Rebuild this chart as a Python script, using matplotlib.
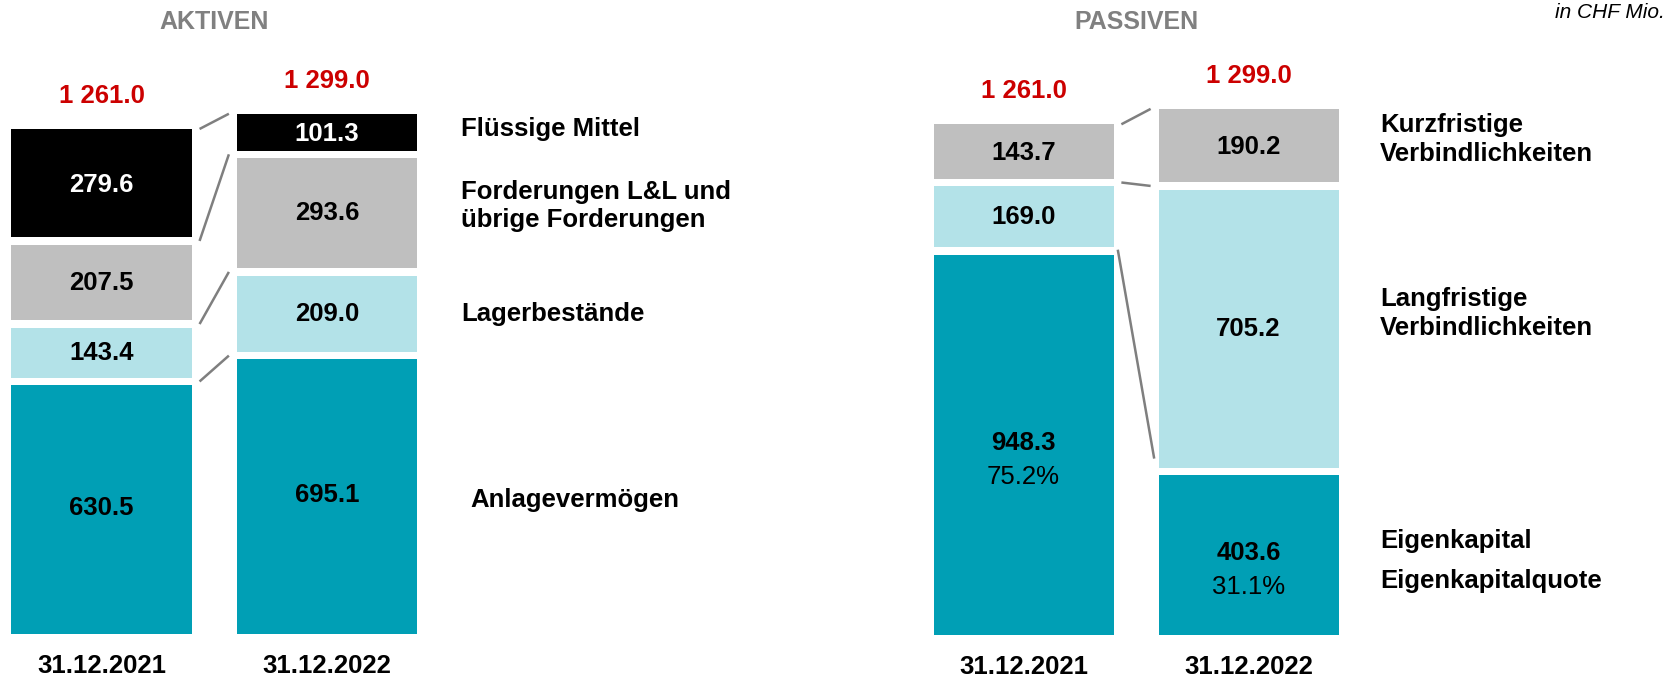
# Bilanzstruktur Aktiven / Passiven, 31.12.2021 vs 31.12.2022
import matplotlib
matplotlib.use("Agg")
import matplotlib.pyplot as plt
import matplotlib.transforms as mtransforms

plt.rcParams['font.family'] = ['Liberation Sans', 'DejaVu Sans']

# data
dates = ["31.12.2021", "31.12.2022"]

aktiv_cats = ["Anlagevermögen", "Lagerbestände",
              "Forderungen L&L und\nübrige Forderungen", "Flüssige Mittel"]
aktiv_2021 = [630.5, 143.4, 207.5, 279.6]
aktiv_2022 = [695.1, 209.0, 293.6, 101.3]

passiv_cats = ["Eigenkapital", "Langfristige\nVerbindlichkeiten",
               "Kurzfristige\nVerbindlichkeiten"]
passiv_2021 = [948.3, 169.0, 143.7]
passiv_2022 = [403.6, 705.2, 190.2]
ek_quote = ["75.2%", "31.1%"]

totals = ["1 261.0", "1 299.0"]

aktiv_colors = ["#009FB5", "#B3E2E8", "#BFBFBF", "#000000"]
aktiv_text = ["black", "black", "black", "white"]
passiv_colors = ["#009FB5", "#B3E2E8", "#BFBFBF"]

RED = "#CC0000"
GREY_TITLE = "#808080"
LINE = "#7F7F7F"
FS = 18.5
GAP = 19  # white gap between segments, in data units
BW = 0.8

W, H = 1669, 678
fig = plt.figure(figsize=(W / 100, H / 100), dpi=100)


def px_axes(left, bottom_from_top, width, height):
    return fig.add_axes([left / W, (H - bottom_from_top) / H, width / W, height / H])


def stacked(ax, cols, colors, txtcolors, show_vals=True):
    """draw the two stacked bars with gaps, return cumulative boundaries"""
    bounds = []
    for i, vals in enumerate(cols):
        cum = 0.0
        b = [0.0]
        n = len(vals)
        for j, v in enumerate(vals):
            lo = cum + (GAP / 2 if j > 0 else 0)
            hi = cum + v - (GAP / 2 if j < n - 1 else 0)
            ax.bar(i, hi - lo, bottom=lo, width=BW, color=colors[j], linewidth=0)
            if show_vals:
                ax.text(i, cum + v / 2, f"{v:.1f}", ha="center", va="center",
                        fontsize=FS, fontweight="bold", color=txtcolors[j])
            cum += v
            b.append(cum)
        bounds.append(b)
    return bounds


def connectors(ax, bounds, pairs, shrink=0.035):
    for a, b in pairs:
        ax.plot([BW / 2 + shrink, 1 - BW / 2 - shrink],
                [bounds[0][a], bounds[1][b]],
                color=LINE, linewidth=1.8, solid_capstyle="butt")


def decorate(ax, title, bounds):
    tr = mtransforms.blended_transform_factory(ax.transData, fig.transFigure)
    ax.text(0.5, 1 - 22 / H, title, transform=tr, ha="center", va="center",
            fontsize=FS - 0.5, fontweight="bold", color=GREY_TITLE)
    for i in range(2):
        ax.annotate(totals[i], (i, bounds[i][-1]), xytext=(0, 33),
                    textcoords="offset pixels", ha="center", va="center",
                    fontsize=FS, fontweight="bold", color=RED,
                    annotation_clip=False)
        ax.annotate(dates[i], (i, 0), xytext=(0, -32),
                    textcoords="offset pixels", ha="center", va="center",
                    fontsize=FS, fontweight="bold", color="black",
                    annotation_clip=False)
    ax.set_xlim(-0.45, 1.55)
    ax.set_ylim(0, 1400)
    ax.axis("off")


# ---- Aktiven
ax1 = px_axes(0, 634, 451, 1400 * 0.4005)
b1 = stacked(ax1, [aktiv_2021, aktiv_2022], aktiv_colors, aktiv_text)
connectors(ax1, b1, [(1, 1), (2, 2), (3, 3), (4, 4)])
decorate(ax1, "AKTIVEN", b1)
label_x = [1.634, 1.594, 1.594, 1.594]
label_dy = [-5, 0, 7, 5]
for j, cat in enumerate(aktiv_cats):
    mid = (b1[1][j] + b1[1][j + 1]) / 2
    ax1.annotate(cat, (label_x[j], mid), xytext=(0, label_dy[j]),
                 textcoords="offset pixels", ha="left", va="center",
                 fontsize=FS, fontweight="bold", annotation_clip=False,
                 linespacing=1.25)

# ---- Passiven
ax2 = px_axes(922.25, 635, 450, 1400 * 0.405)
b2 = stacked(ax2, [passiv_2021, passiv_2022], passiv_colors,
             ["black", "black", "black"])
connectors(ax2, b2, [(2, 2), (3, 3)])
ax2.plot([BW / 2 + 0.02, 1 - BW / 2 - 0.02], [b2[0][1], b2[1][1] + 35],
         color=LINE, linewidth=1.8)
decorate(ax2, "PASSIVEN", b2)

for i in range(2):
    v = passiv_2021[0] if i == 0 else passiv_2022[0]
    ax2.annotate(ek_quote[i], (i, v / 2), xytext=(0, -34),
                 textcoords="offset pixels", ha="center", va="center",
                 fontsize=FS, color="black", annotation_clip=False)

xl = 1.585
mid_k = (b2[1][2] + b2[1][3]) / 2
ax2.annotate(passiv_cats[2], (xl, mid_k), xytext=(0, 8), textcoords="offset pixels",
             ha="left", va="center", fontsize=FS, fontweight="bold",
             annotation_clip=False, linespacing=1.25)
mid_l = (b2[1][1] + b2[1][2]) / 2
ax2.annotate(passiv_cats[1], (xl, mid_l), xytext=(0, 15), textcoords="offset pixels",
             ha="left", va="center", fontsize=FS, fontweight="bold",
             annotation_clip=False, linespacing=1.25)
mid_e = passiv_2022[0] / 2
ax2.annotate(passiv_cats[0], (xl, mid_e), xytext=(0, 12), textcoords="offset pixels",
             ha="left", va="center", fontsize=FS, fontweight="bold",
             annotation_clip=False)
ax2.annotate("Eigenkapitalquote", (xl, mid_e), xytext=(0, -28),
             textcoords="offset pixels", ha="left", va="center", fontsize=FS,
             fontweight="bold", annotation_clip=False)

fig.text(1 - 4 / W, 1 - 12 / H, "in CHF Mio.", ha="right", va="center",
         fontsize=15, style="italic", color="black")

fig.savefig("out.png", dpi=100)
